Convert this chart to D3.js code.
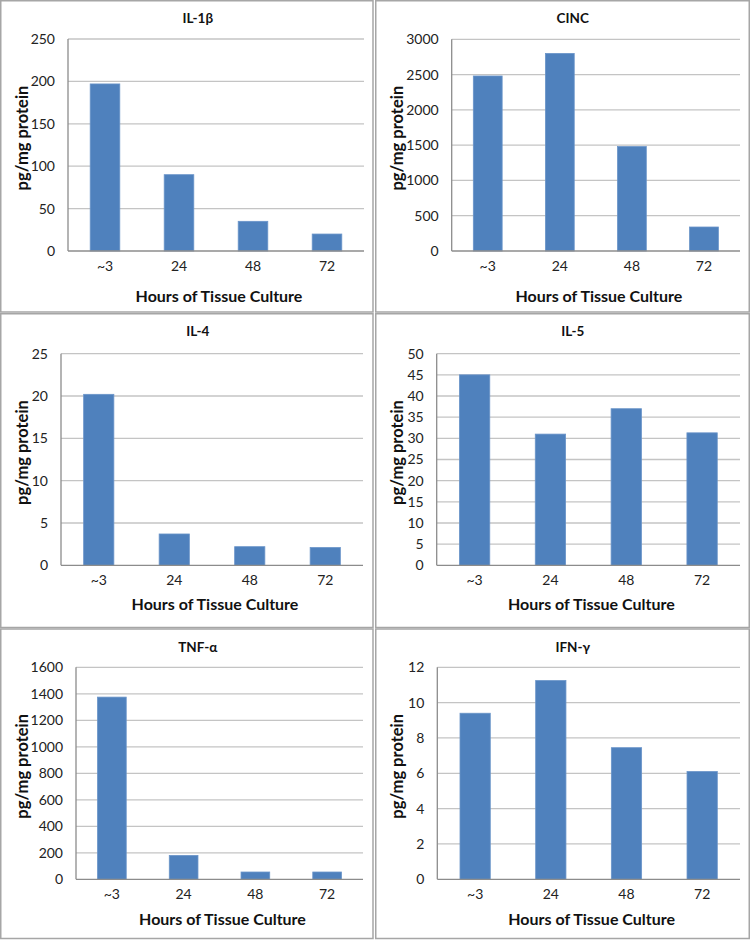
<!DOCTYPE html>
<html><head><meta charset="utf-8">
<script src="https://cdn.jsdelivr.net/npm/d3@7"></script>
<style>body{margin:0;background:#fff}svg{display:block}</style>
</head><body>
<script>
const categories = ["~3", "24", "48", "72"];
const titles = ["IL-1β", "CINC", "IL-4", "IL-5", "TNF-α", "IFN-γ"];
const il1b = [197, 90, 35, 20];
const cinc = [2480, 2800, 1480, 340];
const il4 = [20.2, 3.7, 2.2, 2.1];
const il5 = [45, 31, 37, 31.3];
const tnfa = [1375, 180, 55, 55];
const ifng = [9.4, 11.25, 7.45, 6.1];
const yMax = [250, 3000, 25, 50, 1600, 12];
const yStep = [50, 500, 5, 5, 200, 2];
const xTitle = "Hours of Tissue Culture";
const yTitle = "pg/mg protein";
const series = [il1b, cinc, il4, il5, tnfa, ifng];

// layout (positions only)
const boxes = [
  [0.75, 0.75, 372.25, 311.25], [375.75, 0.75, 373.5, 311.25],
  [0.75, 313.75, 372.25, 313.75], [375.75, 313.75, 373.5, 313.75],
  [0.75, 629, 372.25, 309.5], [375.75, 629, 373.5, 309.5]
];
const plots = [
  [68, 364, 39, 251], [451.7, 740, 39.3, 251],
  [61, 363, 353.7, 565.3], [436.7, 740, 353.7, 565.3],
  [76, 363, 667.3, 879.3], [437.3, 740, 667.3, 879.3]
];
const xTitleOff = [45, 45, 39.5, 39.5, 39.7, 39.7];

const W = 750, H = 940;
const svg = d3.select("body").append("svg").attr("width", W).attr("height", H);
const font = "Lato, 'Open Sans', sans-serif";

series.forEach((vals, i) => {
  const [bx, by, bw, bh] = boxes[i];
  const [L, R, T, B] = plots[i];
  const g = svg.append("g");
  g.append("rect").attr("x", bx).attr("y", by).attr("width", bw).attr("height", bh)
    .attr("fill", "#fff").attr("stroke", "#a6a6a6").attr("stroke-width", 1.5);

  const x = d3.scaleBand().domain(categories).range([L, R]).paddingInner(0.6).paddingOuter(0.3);
  const xb = d3.scaleBand().domain(categories).range([L, R]);
  const y = d3.scaleLinear().domain([0, yMax[i]]).range([B, T]);
  const ticks = d3.range(0, yMax[i] + yStep[i] / 2, yStep[i]);

  // gridlines
  g.selectAll(".grid").data(ticks.filter(t => t > 0)).join("line")
    .attr("x1", L).attr("x2", R).attr("y1", d => y(d)).attr("y2", d => y(d))
    .attr("stroke", "#c4c4c4").attr("stroke-width", 1.3);

  // bars
  g.selectAll(".bar").data(vals).join("rect")
    .attr("x", (d, j) => x(categories[j])).attr("width", x.bandwidth())
    .attr("y", d => y(d)).attr("height", d => B - y(d))
    .attr("fill", "#4f81bd").attr("stroke", "#6a94c9").attr("stroke-width", 0.8);

  // axes lines
  g.append("line").attr("x1", L).attr("x2", L).attr("y1", T).attr("y2", B)
    .attr("stroke", "#8c8c8c").attr("stroke-width", 1.3);
  g.append("line").attr("x1", L).attr("x2", R).attr("y1", B).attr("y2", B)
    .attr("stroke", "#8c8c8c").attr("stroke-width", 1.3);

  // y tick labels
  const yAxis = d3.axisLeft(y).tickValues(ticks).tickFormat(d3.format("d")).tickSize(0).tickPadding(13);
  const ya = g.append("g").attr("transform", `translate(${L},0)`).call(yAxis);
  ya.select(".domain").remove();
  ya.selectAll("text").attr("font-family", font).attr("font-size", 14).attr("fill", "#222");

  // x tick labels
  const xAxis = d3.axisBottom(xb).tickSize(0).tickPadding(10);
  const xa = g.append("g").attr("transform", `translate(0,${B})`).call(xAxis);
  xa.select(".domain").remove();
  xa.selectAll("text").attr("font-family", font).attr("font-size", 14).attr("fill", "#222");

  // title
  g.append("text").attr("x", bx + 197).attr("y", by + 18).attr("dy", "0.35em")
    .attr("text-anchor", "middle").attr("font-family", font).attr("font-weight", "bold")
    .attr("font-size", 13.5).attr("fill", "#111").text(titles[i]);

  // x axis title
  g.append("text").attr("x", (L + R) / 2 + 3).attr("y", B + xTitleOff[i]).attr("dy", "0.35em")
    .attr("text-anchor", "middle").attr("font-family", font).attr("font-weight", "bold")
    .attr("font-size", 16).attr("fill", "#111").text(xTitle);

  // y axis title
  const yc = (T + B) / 2 - 7;
  g.append("text").attr("transform", `translate(${bx + 21.5},${yc}) rotate(-90)`)
    .attr("dy", "0.35em").attr("text-anchor", "middle").attr("font-family", font)
    .attr("font-weight", "bold").attr("font-size", 16.5).attr("fill", "#111").text(yTitle);
});
</script>
</body></html>
